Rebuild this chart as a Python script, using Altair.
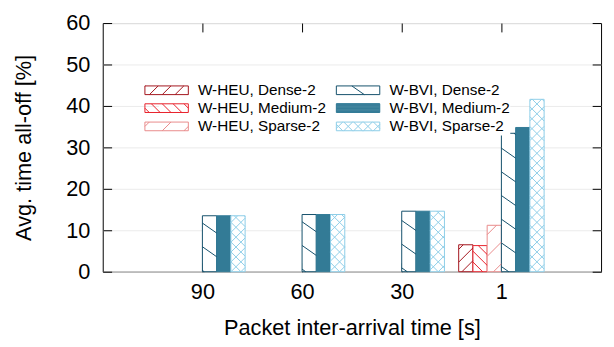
import math
import altair as alt
import pandas as pd

# ---------------- data ----------------
groups = ["90", "60", "30", "1"]
series = ["W-HEU, Dense-2", "W-HEU, Medium-2", "W-HEU, Sparse-2",
          "W-BVI, Dense-2", "W-BVI, Medium-2", "W-BVI, Sparse-2"]
heu_dense = [0, 0, 0, 6.5]
heu_medium = [0, 0, 0, 6.3]
heu_sparse = [0, 0, 0, 11.2]
bvi_dense = [13.5, 13.8, 14.6, 33.4]
bvi_medium = [13.5, 13.8, 14.6, 34.8]
bvi_sparse = [13.5, 13.8, 14.6, 41.6]
y_ticks = [0, 10, 20, 30, 40, 50, 60]
x_ticks = [1, 2, 3, 4]

values = [heu_dense, heu_medium, heu_sparse, bvi_dense, bvi_medium, bvi_sparse]

# ---------------- style ----------------
FONT = "Liberation Sans"
stroke_colors = ["#a3141c", "#e8202a", "#e98a8a", "#134f6b", "#337b96", "#8ccde8"]
fill_colors = ["white", "white", "white", "white", "#337b96", "white"]
# (slope in px, vertical period in px)
hatches = [[(1, 13)], [(-1, 11)], [(1, 22)], [(-0.7, 24)], [], [(1, 10), (-1, 10)]]

W, H = 505, 252
XMAX, YMAX = 5, 60
KX, KY = W / XMAX, H / YMAX
NB = 7  # bar slots per group


def clip(m, c, x0, x1, y0, y1):
    if m > 0:
        a, b = (y0 - c) / m, (y1 - c) / m
    else:
        a, b = (y1 - c) / m, (y0 - c) / m
    lo, hi = max(x0, a), min(x1, b)
    if hi - lo <= 0.3:
        return None
    return lo, m * lo + c, hi, m * hi + c


def hatch_segments(x0, x1, y0, y1, spec):
    segs = []
    for m, P in spec:
        cs = [y - m * x for x in (x0, x1) for y in (y0, y1)]
        for k in range(math.ceil(min(cs) / P), math.floor(max(cs) / P) + 1):
            s = clip(m, k * P, x0, x1, y0, y1)
            if s:
                segs.append(s)
    return segs


bar_rows, hatch_rows = [], []
for gi in range(len(groups)):
    for si, s in enumerate(series):
        v = values[si][gi]
        if v <= 0:
            continue
        x0 = gi + 1 + (si - 3) / NB
        x1 = x0 + 1 / NB
        bar_rows.append({"series": s, "x0": x0, "x1": x1, "v": v, "base": 0})
        for (xa, ya, xb, yb) in hatch_segments(x0 * KX, x1 * KX, 0, v * KY, hatches[si]):
            hatch_rows.append({"series": s, "hx": xa / KX, "hx2": xb / KX,
                               "hy": ya / KY, "hy2": yb / KY})
bars_df = pd.DataFrame(bar_rows)
hatch_df = pd.DataFrame(hatch_rows)

# legend symbols: custom paths, symbol size 100 -> 1 path unit = 5 px
SYM_R = 5.0
SYM_W, SYM_H = 22.0, 4.4   # half width / half height in px


def legend_path(si):
    r, hw, hh = SYM_R, SYM_W, SYM_H
    parts = [f"M{-hw / r:.4f},{-hh / r:.4f}L{hw / r:.4f},{-hh / r:.4f}"
             f"L{hw / r:.4f},{hh / r:.4f}L{-hw / r:.4f},{hh / r:.4f}Z"]
    for (xa, ya, xb, yb) in hatch_segments(-hw, hw, -hh, hh, hatches[si]):
        parts.append(f"M{xa / r:.4f},{-ya / r:.4f}L{xb / r:.4f},{-yb / r:.4f}")
    if fill_colors[si] != "white":
        y = -hh
        while y <= hh:
            parts.append(f"M{-hw / r:.4f},{y / r:.4f}L{hw / r:.4f},{y / r:.4f}")
            y += 0.6
    return "".join(parts)


legend_paths = [legend_path(i) for i in range(len(series))]

xscale = alt.Scale(domain=[0, XMAX], nice=False, zero=False)
yscale = alt.Scale(domain=[0, YMAX], nice=False)
# reversed order so these (legend-less) scales are not merged with the legend ones
stroke_scale = alt.Scale(domain=series[::-1], range=stroke_colors[::-1])
fill_scale = alt.Scale(domain=series[::-1], range=fill_colors[::-1])

label_expr = "[" + ",".join(f"'{g}'" for g in groups) + "][datum.value - 1]"

bars = alt.Chart(bars_df).mark_bar(strokeWidth=1, strokeOpacity=1).encode(
    x=alt.X("x0:Q", scale=xscale,
            axis=alt.Axis(orient="bottom", values=x_ticks, labelExpr=label_expr,
                          offset=-9, tickSize=9, domain=False, grid=False,
                          labelPadding=10, title="Packet inter-arrival time [s]",
                          titlePadding=16, zindex=0)),
    x2="x1",
    y=alt.Y("v:Q", scale=yscale,
            axis=alt.Axis(orient="left", values=y_ticks, offset=-9, tickSize=9,
                          domain=False, grid=True, gridColor="#ebebeb",
                          labelPadding=13, title="Avg. time all-off [%]",
                          titlePadding=31, zindex=0)),
    y2="base",
    fill=alt.Fill("series:N", scale=fill_scale, legend=None),
    stroke=alt.Stroke("series:N", scale=stroke_scale, legend=None),
)

rules = alt.Chart(hatch_df).mark_rule(strokeWidth=1).encode(
    x=alt.X("hx:Q", scale=xscale,
            axis=alt.Axis(orient="top", values=x_ticks, labels=False, offset=-9,
                          tickSize=9, domain=False, grid=False, title=None, zindex=1)),
    x2="hx2",
    y=alt.Y("hy:Q", scale=yscale,
            axis=alt.Axis(orient="right", values=y_ticks, labels=False, offset=-9,
                          tickSize=9, domain=False, grid=False, title=None, zindex=1)),
    y2="hy2",
    stroke=alt.Stroke("series:N", scale=stroke_scale, legend=None),
)

leg = alt.Legend(title=None, orient="none", legendX=57, legendY=60, columns=2,
                 labelFont=FONT, labelFontSize=15.5, labelColor="black",
                 labelOffset=24, columnPadding=7, rowPadding=1.5, padding=0,
                 fillColor="white", symbolSize=100, symbolStrokeWidth=1,
                 symbolOpacity=1)

legend_layer = alt.Chart(pd.DataFrame({"series": series})).transform_filter(
    "false").mark_point(opacity=1, strokeWidth=1, size=100, filled=False).encode(
    shape=alt.Shape("series:N", scale=alt.Scale(domain=series, range=legend_paths),
                    legend=leg),
    color=alt.Color("series:N", scale=alt.Scale(domain=series, range=stroke_colors),
                    legend=leg),
)

chart = alt.layer(bars, rules, legend_layer).resolve_axis(
    x="independent", y="independent"
).properties(
    width=W, height=H,
    padding={"left": 96, "top": 13, "right": 5, "bottom": 70},
    autosize=alt.AutoSizeParams(type="none"),
).configure_view(
    stroke="black", strokeWidth=1
).configure_axis(
    labelFont=FONT, titleFont=FONT, labelFontSize=22, titleFontSize=22,
    titleFontWeight="normal", labelColor="black", titleColor="black",
    tickColor="black", tickWidth=1,
)

chart.save("out.html", embed_options={"renderer": "svg", "actions": False})
